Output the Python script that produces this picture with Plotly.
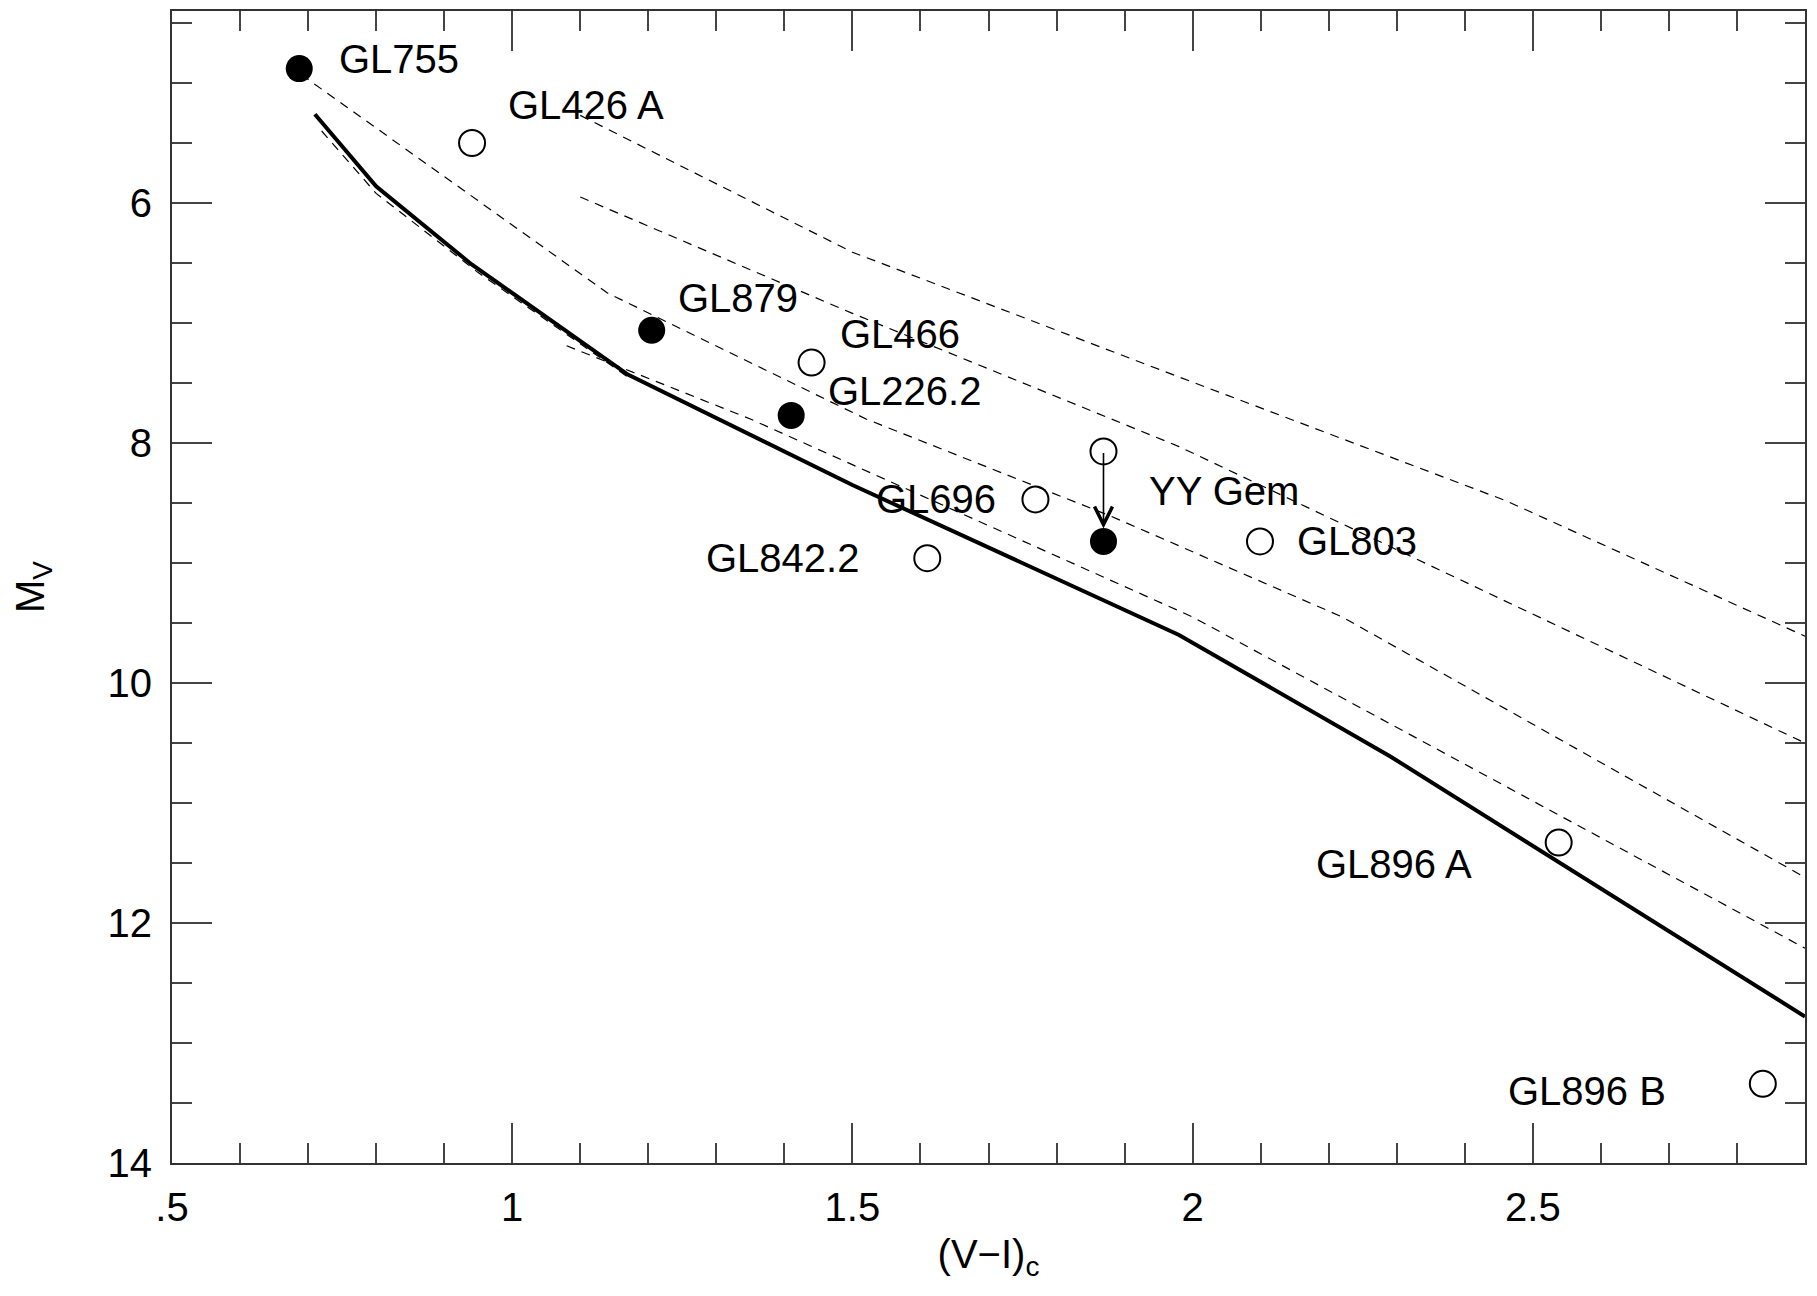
import plotly.graph_objects as go

# ---------------- data ----------------
star_names = ["GL755", "GL426 A", "GL879", "GL466", "GL226.2", "GL696",
              "GL842.2", "YY Gem", "GL803", "GL896 A", "GL896 B"]
star_vi = [0.687, 0.941, 1.205, 1.440, 1.410, 1.769, 1.610, 1.869, 2.099, 2.538, 2.838]
star_mv = [4.88, 5.50, 7.06, 7.33, 7.77, 8.47, 8.96, 8.07, 8.82, 11.33, 13.34]
star_filled = [True, False, True, False, True, False, False, False, False, False, False]

# YY Gem corrected point (arrow target)
yygem_corr_vi = [1.869]
yygem_corr_mv = [8.82]

# solid sequence
solid_vi = [0.71, 0.80, 0.94, 1.17, 1.50, 1.98, 2.29, 2.90]
solid_mv = [5.26, 5.86, 6.51, 7.43, 8.35, 9.60, 10.61, 12.78]

# dashed sequences
dash1_vi = [1.10, 1.50, 1.98, 2.46, 2.90]
dash1_mv = [5.27, 6.41, 7.45, 8.48, 9.61]
dash2_vi = [1.10, 1.50, 1.98, 2.90]
dash2_mv = [5.95, 6.92, 8.03, 10.50]
dash3_vi = [0.69, 1.14, 1.52, 1.88, 2.22, 2.90]
dash3_mv = [4.93, 6.75, 7.80, 8.61, 9.45, 11.62]
dash4_vi = [1.08, 1.35, 2.00, 2.90]
dash4_mv = [7.19, 7.80, 9.45, 12.21]
dash5_vi = [0.72, 0.80, 0.95, 1.17]
dash5_mv = [5.40, 5.92, 6.58, 7.45]

x_tickvals = [0.5, 1.0, 1.5, 2.0, 2.5]
x_ticktext = [".5", "1", "1.5", "2", "2.5"]
y_tickvals = [6, 8, 10, 12, 14]
y_ticktext = ["6", "8", "10", "12", "14"]

# label placement (layout): (x, y) of left edge / vertical middle
label_pos = {
    "GL755": (0.742, 4.80), "GL426 A": (0.991, 5.18), "GL879": (1.241, 6.79),
    "GL466": (1.479, 7.09), "GL226.2": (1.461, 7.57), "GL696": (1.532, 8.47),
    "GL842.2": (1.282, 8.96), "YY Gem": (1.933, 8.40), "GL803": (2.150, 8.82),
    "GL896 A": (2.179, 11.51), "GL896 B": (2.460, 13.40),
}

FONT = "Liberation Sans, Arial, Helvetica, sans-serif"
fig = go.Figure()

for vx, vy in [(dash1_vi, dash1_mv), (dash2_vi, dash2_mv), (dash3_vi, dash3_mv),
               (dash4_vi, dash4_mv), (dash5_vi, dash5_mv)]:
    fig.add_trace(go.Scatter(x=vx, y=vy, mode="lines",
                             line=dict(color="black", width=1.2, dash="9px,7px"),
                             hoverinfo="skip"))

fig.add_trace(go.Scatter(x=solid_vi, y=solid_mv, mode="lines",
                         line=dict(color="black", width=4), hoverinfo="skip"))

ox = [x for x, f in zip(star_vi, star_filled) if not f]
oy = [y for y, f in zip(star_mv, star_filled) if not f]
fx = [x for x, f in zip(star_vi, star_filled) if f] + yygem_corr_vi
fy = [y for y, f in zip(star_mv, star_filled) if f] + yygem_corr_mv

fig.add_trace(go.Scatter(x=ox, y=oy, mode="markers",
                         marker=dict(symbol="circle-open", size=26, color="black",
                                     line=dict(width=2, color="black"))))
fig.add_trace(go.Scatter(x=fx, y=fy, mode="markers",
                         marker=dict(symbol="circle", size=27, color="black")))

for name in star_names:
    lx, ly = label_pos[name]
    fig.add_annotation(x=lx, y=ly, text=name, showarrow=False, xanchor="left",
                       yanchor="middle", font=dict(family=FONT, size=40, color="black"))

# arrow for YY Gem
i_yy = star_names.index("YY Gem")
fig.add_annotation(x=yygem_corr_vi[0], y=yygem_corr_mv[0],
                   ax=star_vi[i_yy], ay=star_mv[i_yy], axref="x", ayref="y",
                   xref="x", yref="y", text="", showarrow=True,
                   arrowhead=5, arrowsize=2.2, arrowwidth=1.6, arrowcolor="black",
                   standoff=13, startstandoff=0)

axis_common = dict(showgrid=False, zeroline=False, showline=True, linecolor="#333",
                   linewidth=2, mirror="ticks", ticks="inside", ticklen=40,
                   tickwidth=2, tickcolor="#444",
                   tickfont=dict(family=FONT, size=40, color="black"))

fig.update_xaxes(range=[0.5, 2.9], tickmode="array", tickvals=x_tickvals,
                 ticktext=x_ticktext, ticklabelstandoff=8,
                 minor=dict(ticks="inside", ticklen=20, tickwidth=2, tickcolor="#444",
                            dtick=0.1, tick0=0.5, showgrid=False),
                 title=dict(text="(V\u2212I)<sub>c</sub>", standoff=12,
                            font=dict(family=FONT, size=40, color="black")),
                 automargin=False, **axis_common)
fig.update_yaxes(range=[14, 4.4], tickmode="array", tickvals=y_tickvals,
                 ticktext=y_ticktext, ticklabelstandoff=10,
                 minor=dict(ticks="inside", ticklen=20, tickwidth=2, tickcolor="#444",
                            dtick=0.5, tick0=0, showgrid=False),
                 title=dict(text="M<sub>V</sub>", standoff=56,
                            font=dict(family=FONT, size=40, color="black")),
                 automargin=False, **axis_common)

fig.update_layout(width=1817, height=1296, margin=dict(l=164, r=20, t=3, b=141),
                  plot_bgcolor="white", paper_bgcolor="white", showlegend=False,
                  font=dict(family=FONT, color="black"))

fig.write_html("out.html")
